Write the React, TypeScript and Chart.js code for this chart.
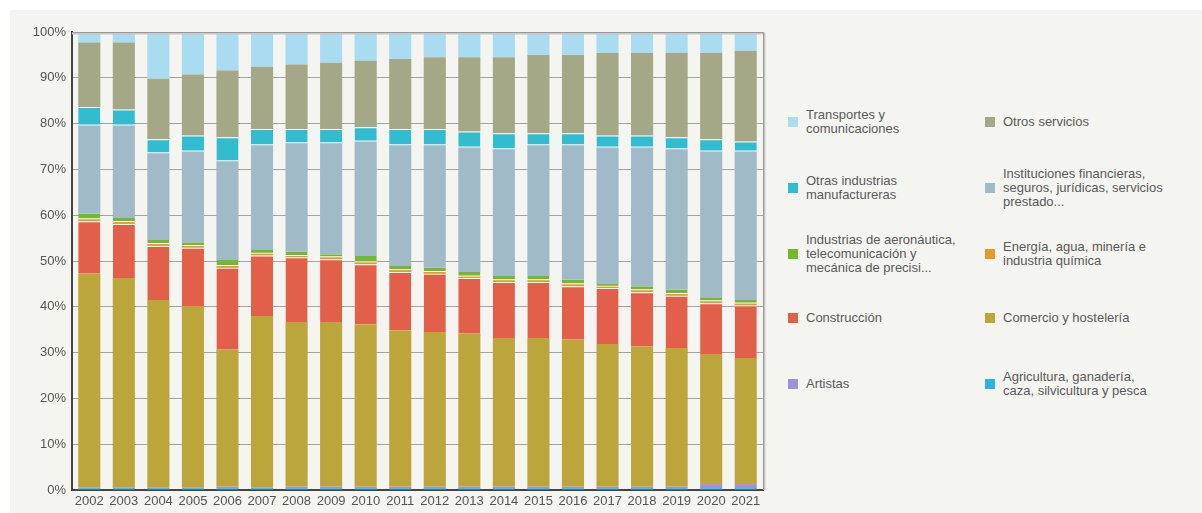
import React, { useEffect, useRef } from "react";
import { Chart, registerables } from "chart.js";

Chart.register(...registerables);

const years = ["2002","2003","2004","2005","2006","2007","2008","2009","2010","2011","2012","2013","2014","2015","2016","2017","2018","2019","2020","2021"];

const agricultura = [0.4,0.4,0.4,0.4,0.4,0.4,0.4,0.4,0.4,0.4,0.4,0.4,0.4,0.4,0.4,0.4,0.4,0.4,0.4,0.4];
const artistas = [0.1,0.1,0.1,0.1,0.3,0.1,0.3,0.3,0.3,0.3,0.3,0.3,0.3,0.3,0.3,0.3,0.3,0.3,0.9,0.9];
const comercio = [46.7,45.8,41.0,39.7,29.9,37.5,36.0,36.0,35.5,34.2,33.8,33.4,32.5,32.5,32.1,31.2,30.7,30.3,28.4,27.5];
const construccion = [11.5,11.8,11.8,12.7,17.9,13.2,14.1,13.7,13.1,12.7,12.7,12.2,12.2,12.2,11.7,12.2,11.8,11.4,11.1,11.5];
const energia = [0.4,0.4,0.4,0.4,0.4,0.4,0.3,0.4,0.4,0.4,0.4,0.3,0.4,0.4,0.4,0.3,0.4,0.4,0.4,0.4];
const aeronautica = [1.2,0.9,0.9,0.8,1.3,0.8,0.9,0.7,1.4,0.9,0.9,1.0,0.9,0.9,1.0,0.6,0.9,0.9,0.7,0.8];
const instituciones = [19.3,20.2,18.9,19.8,21.6,22.9,23.7,24.2,25.0,26.4,26.8,27.2,27.7,28.6,29.4,29.8,30.3,30.7,32.0,32.4];
const otrasIndustrias = [4.0,3.5,3.1,3.5,5.2,3.5,3.1,3.1,3.1,3.5,3.5,3.5,3.5,2.6,2.6,2.6,2.6,2.6,2.7,2.2];
const otrosServicios = [14.1,14.6,13.2,13.3,14.6,13.6,14.1,14.5,14.5,15.3,15.7,16.2,16.6,17.1,17.1,18.0,18.0,18.4,18.8,19.8];
const transportes = [2.3,2.3,10.2,9.3,8.4,7.6,7.1,6.7,6.3,5.9,5.5,5.5,5.5,5.0,5.0,4.6,4.6,4.6,4.6,4.1];

const yTicks = [0,10,20,30,40,50,60,70,80,90,100];

const FONT = "'Liberation Sans', Arial, sans-serif";

const legendItems = [
  { label: ["Transportes y", "comunicaciones"], color: "#a9dbf1", col: 0, row: 0 },
  { label: ["Otros servicios"], color: "#a5a886", col: 1, row: 0 },
  { label: ["Otras industrias", "manufactureras"], color: "#31bcd0", col: 0, row: 1 },
  { label: ["Instituciones financieras,", "seguros, jurídicas, servicios", "prestado..."], color: "#a0bac8", col: 1, row: 1 },
  { label: ["Industrias de aeronáutica,", "telecomunicación y", "mecánica de precisi..."], color: "#72b92f", col: 0, row: 2 },
  { label: ["Energía, agua, minería e", "industria química"], color: "#e29a2c", col: 1, row: 2 },
  { label: ["Construcción"], color: "#e2604a", col: 0, row: 3 },
  { label: ["Comercio y hostelería"], color: "#bca63b", col: 1, row: 3 },
  { label: ["Artistas"], color: "#a192d8", col: 0, row: 4 },
  { label: ["Agricultura, ganadería,", "caza, silvicultura y pesca"], color: "#2eb0e6", col: 1, row: 4 },
];

const rowCenters = [122, 188, 254, 318, 384];
const colX = [788, 985];

const frame = {
  id: "frame",
  afterDatasetsDraw(chart: any) {
    const { ctx, chartArea } = chart;
    const { left, top, right, bottom } = chartArea;
    ctx.save();
    ctx.strokeStyle = "#c8c8c6";
    ctx.lineWidth = 2;
    ctx.beginPath();
    ctx.moveTo(left, top + 1.5);
    ctx.lineTo(right + 1.5, top + 1.5);
    ctx.lineTo(right + 1.5, bottom);
    ctx.stroke();
    ctx.strokeStyle = "#999";
    ctx.lineWidth = 1;
    ctx.beginPath();
    ctx.moveTo(left, top + 0.5);
    ctx.lineTo(right + 0.5, top + 0.5);
    ctx.lineTo(right + 0.5, bottom);
    ctx.stroke();
    ctx.restore();
  },
};

export default function App() {
  const ref = useRef<HTMLCanvasElement>(null);
  useEffect(() => {
    if (!ref.current) return;
    const white = "#ffffff";
    const ds = (label: string, data: number[], color: string, extra: any = {}) => ({
      label, data, backgroundColor: color, borderWidth: 0, ...extra,
    });
    const chart = new Chart(ref.current, {
      type: "bar",
      data: {
        labels: years,
        datasets: [
          ds("Agricultura, ganadería, caza, silvicultura y pesca", agricultura, "#2eb0e6"),
          ds("Artistas", artistas, "#a192d8"),
          ds("Comercio y hostelería", comercio, "#bca63b"),
          ds("Construcción", construccion, "#e2604a", { borderColor: white, borderWidth: { top: 1, bottom: 0, left: 0, right: 0 }, borderSkipped: false }),
          ds("Energía, agua, minería e industria química", energia, "#e29a2c"),
          ds("Industrias de aeronáutica, telecomunicación y mecánica de precisi...", aeronautica, "#72b92f", { borderColor: white, borderWidth: { top: 0, bottom: 1, left: 0, right: 0 }, borderSkipped: false }),
          ds("Instituciones financieras, seguros, jurídicas, servicios prestado...", instituciones, "#a0bac8"),
          ds("Otras industrias manufactureras", otrasIndustrias, "#31bcd0", { borderColor: white, borderWidth: { top: 1, bottom: 1, left: 0, right: 0 }, borderSkipped: false }),
          ds("Otros servicios", otrosServicios, "#a5a886"),
          ds("Transportes y comunicaciones", transportes, "#a9dbf1"),
        ],
      },
      options: {
        animation: false,
        responsive: false,
        maintainAspectRatio: false,
        layout: { padding: { left: 0, right: 17, top: 22, bottom: 0 } },
        datasets: { bar: { barPercentage: 0.64, categoryPercentage: 1 } },
        plugins: { legend: { display: false }, tooltip: { enabled: false } },
        scales: {
          x: {
            stacked: true,
            grid: { display: false, drawTicks: false },
            border: { display: true, color: "#444", width: 2 },
            ticks: { color: "#555", font: { family: FONT, size: 13 }, padding: 4, maxRotation: 0, autoSkip: false },
            afterFit: (s: any) => { s.height = 20; },
          },
          y: {
            stacked: true,
            min: 0,
            max: 100,
            z: 1,
            afterBuildTicks: (s: any) => { s.ticks = yTicks.map((v) => ({ value: v })); },
            grid: { color: "rgba(0,0,0,0.33)", lineWidth: 1, drawTicks: false },
            border: { display: true, color: "#444", width: 2 },
            ticks: { color: "#555", font: { family: FONT, size: 13 }, padding: 6, callback: (v: any) => v + "%" },
            afterFit: (s: any) => { s.width = 62; },
          },
        },
      },
      plugins: [frame],
    });
    return () => chart.destroy();
  }, []);

  return (
    <div style={{ position: "absolute", left: 10, top: 10, width: 1192, height: 503, background: "#f4f4f0", overflow: "hidden" }}>
      <canvas ref={ref} width={770} height={500} style={{ position: "absolute", left: 0, top: 0, width: 770, height: 500 }} />
      {legendItems.map((it, i) => (
        <div key={i} style={{ position: "absolute", left: colX[it.col] - 10, top: rowCenters[it.row] - 10, transform: "translateY(-50%)", display: "flex", alignItems: "center", fontFamily: FONT, fontSize: 13, lineHeight: "14px", color: "#5a5a5a" }}>
          <div style={{ width: 10, height: 10, background: it.color, marginRight: 8, flex: "none" }} />
          <div>
            {it.label.map((l, j) => (
              <div key={j} style={{ whiteSpace: "nowrap" }}>{l}</div>
            ))}
          </div>
        </div>
      ))}
    </div>
  );
}
